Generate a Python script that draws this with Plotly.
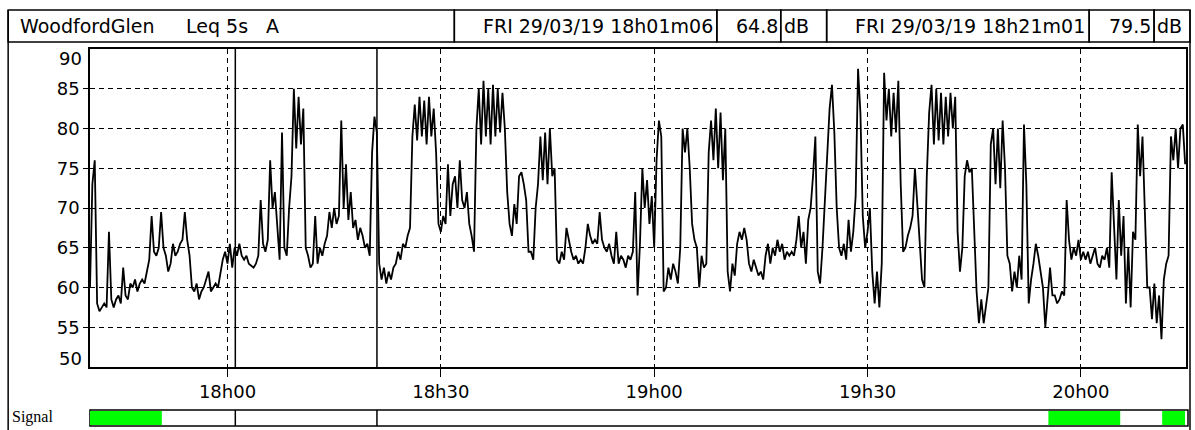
import plotly.graph_objects as go
import pandas as pd

# ---------------- data ----------------
station = "WoodfordGlen"
metric = "Leq 5s"
weighting = "A"
start_time = "2019-03-29 17:40:40"
end_time = "2019-03-29 20:14:47"
step_seconds = 20

leq_1740 = [
    60, 73, 76, 58, 57, 57.5, 58, 57.5, 67, 58.5,
    57.5, 58.5, 59, 58, 62.5, 59, 58.5, 60.5, 60, 61,
    59.5, 60.5, 61, 60.5, 62, 63.5, 69, 64.5, 64, 65,
    69.5, 65, 64, 62, 63, 65.5, 64, 64.5, 65.5, 66,
    69.5, 66, 64, 60, 59.5, 60.5, 58.5, 59.5, 60, 61,
    62, 59.5, 60, 60.5, 60, 62, 63.5, 64.5, 63, 65.5,
    62.5, 65, 64, 65.5, 64, 63.5, 64, 63, 62.8, 62.5,
    63, 64, 71, 65.5, 64.5, 66, 76, 70, 72, 67,
    63.5, 79.5, 65, 64, 70, 74, 85, 77.5, 84, 78,
    82.5, 65,
]
leq_1811 = [
    64, 62.5, 63, 69, 63, 65, 64, 65.5,
    66.5, 69.5, 67.5, 70, 68, 69, 81, 70, 75.5, 68.5,
    72, 67.5, 68.5, 66, 67.5, 66.5, 65, 65.5, 64, 77,
    81.5, 79.5, 63, 61, 62.5, 60.5, 62, 61, 62.5, 63,
    64.5, 63.5, 65.5, 65, 66.5, 67.5, 79, 83, 78.5, 84,
    79, 83.5, 78, 84, 79, 82.5, 77, 68, 67, 69,
    68, 75.5, 69, 73, 74, 70, 76, 71, 70, 72,
    68, 66.5, 64.5, 80, 85, 78, 86, 79, 85, 78,
    85.5, 79, 85, 79.5, 84.5, 80, 72, 68, 66.5, 70.5,
    68, 74, 74.5, 73, 71, 64.5,
]
leq_1842 = [
    64.5, 63.5, 70, 73, 79, 73.5, 79.5, 73, 80, 74,
    75, 63.5, 63, 64.5, 63.5, 67.5, 66, 64.5, 63.5, 64,
    63, 63.5, 63, 65, 68, 66.5, 65.5, 66, 65.5, 69.5,
    66, 65, 64.5, 65.5, 64, 63, 67, 63, 64, 63.5,
    62.5, 64, 63.5, 64.5, 72, 59, 65.5, 75, 70, 73.5,
    68, 71.5, 65, 76, 81, 79, 59.5, 60, 62.5, 61,
    63, 62, 60.5, 65, 80, 77, 80, 75, 68, 66,
    65, 60, 64, 62.5, 63, 77, 81, 76, 82.5, 75,
    82, 73.5, 80, 62, 59.5, 63, 61.5, 65.5, 67, 66,
    67.5, 66,
]
leq_1913 = [
    63, 62, 63.5, 62.5, 61.5, 62, 61, 64, 65.5, 63,
    65, 64, 66, 64.5, 65.5, 63.5, 64.5, 64, 64.5, 64,
    66, 69, 65, 67, 63, 68.5, 70, 74, 79, 62,
    60.5, 65, 71, 78, 82.5, 85.5, 79.5, 70, 65, 64,
    65.5, 63.5, 68.5, 64.5, 67, 71.5, 87.5, 82, 69, 65,
    67, 70, 62, 58, 62, 57.5, 63, 87, 81, 85,
    79, 84.5, 79.5, 86, 73, 64.5, 65, 66.5, 67.5, 69,
    75, 70.5, 66, 61, 60, 74, 82, 85.5, 78, 85,
    78.5, 84.5, 78, 84, 79, 84.5, 80, 84, 67, 62,
    65, 74, 76,
]
leq_1944 = [
    74.5, 75, 67, 59.5, 55.5, 58.5, 55.5, 58, 60, 78,
    80, 73, 80, 72.5, 81, 75, 64, 63, 59.5, 62,
    60, 64, 61, 80.5, 73, 58, 61, 63, 65.5, 64,
    62, 60, 55, 58.5, 62.5, 59, 59, 58, 58.5, 59.5,
    59, 71, 66, 63.5, 65, 64, 66, 63.5, 64.5, 63.5,
    64.5, 63, 64, 65, 63, 62.5, 64, 63.5, 65, 62.5,
    74.5, 67, 61, 71, 64, 69, 58, 65, 57.5, 67,
    66, 80.5, 74, 79, 68, 60, 60, 56, 60.5, 55.5,
    59, 53.5, 61, 63, 64, 79, 76, 80, 75, 80,
    80.5, 75.5,
]

cursor_times = ["2019-03-29 18:01:06", "2019-03-29 18:21:01"]
cursor_labels = ["FRI 29/03/19 18h01m06", "FRI 29/03/19 18h21m01"]
cursor_values = ["64.8", "79.5"]
unit = "dB"

signal_starts = ["2019-03-29 17:40:40", "2019-03-29 19:55:26", "2019-03-29 20:11:26"]
signal_ends = ["2019-03-29 17:50:46", "2019-03-29 20:05:32", "2019-03-29 20:14:39"]
signal_label = "Signal"

x_tick_times = ["2019-03-29 18:00", "2019-03-29 18:30", "2019-03-29 19:00",
                "2019-03-29 19:30", "2019-03-29 20:00"]
x_tick_labels = ["18h00", "18h30", "19h00", "19h30", "20h00"]
y_ticks = [55, 60, 65, 70, 75, 80, 85]
y_min, y_max = 50, 90

# ---------------- geometry / style ----------------
W, H = 1195, 430
PL, PR, PT, PB = 90, 1188, 49, 367
FONT = "DejaVu Sans"


def px(x):
    return (x - PL) / (PR - PL)


def py(y):
    return (PB - y) / (PB - PT)


leq = leq_1740 + leq_1811 + leq_1842 + leq_1913 + leq_1944
times = pd.date_range(start=start_time, periods=len(leq), freq=f"{step_seconds}s")

fig = go.Figure()
fig.add_trace(go.Scatter(x=times, y=leq, mode="lines",
                         line=dict(color="black", width=1.8),
                         hoverinfo="skip", showlegend=False))

shapes = []
# header cells
edges = [8, 455, 718, 782, 828, 1091, 1156, 1192]
for a, b in zip(edges[:-1], edges[1:]):
    shapes.append(dict(type="rect", xref="paper", yref="paper",
                       x0=px(a), x1=px(b), y0=py(10), y1=py(42),
                       line=dict(color="black", width=1.5), fillcolor="rgba(0,0,0,0)"))
# outer frame sides
for xv in (8, 1192):
    shapes.append(dict(type="line", xref="paper", yref="paper",
                       x0=px(xv), x1=px(xv), y0=py(10), y1=py(440),
                       line=dict(color="black", width=1.5)))
# signal bar
shapes.append(dict(type="rect", xref="paper", yref="paper",
                   x0=px(90), x1=px(1190), y0=py(410), y1=py(426),
                   line=dict(color="black", width=1.5), fillcolor="white", layer="below"))
for s, e in zip(signal_starts, signal_ends):
    shapes.append(dict(type="rect", xref="x", yref="paper",
                       x0=s, x1=e, y0=py(411), y1=py(425),
                       line=dict(width=0), fillcolor="#00ff00"))
# cursors
for t in cursor_times:
    shapes.append(dict(type="line", xref="x", yref="paper", x0=t, x1=t, y0=0, y1=1,
                       line=dict(color="black", width=1.5)))
    shapes.append(dict(type="line", xref="x", yref="paper", x0=t, x1=t,
                       y0=py(410), y1=py(426), line=dict(color="black", width=1.5)))

annotations = []


def txt(text, x, y, anchor, size=19, family=FONT):
    annotations.append(dict(text=text, xref="paper", yref="paper", x=px(x), y=py(y),
                            xanchor=anchor, yanchor="middle", showarrow=False,
                            font=dict(family=family, size=size, color="black")))


txt(station, 18, 26, "left")
txt(metric, 184, 26, "left")
txt(weighting, 264, 26, "left")
txt(cursor_labels[0], 716, 26, "right")
txt(cursor_values[0], 781, 26, "right")
txt(unit, 783, 26, "left")
txt(cursor_labels[1], 1089, 26, "right")
txt(cursor_values[1], 1155, 26, "right")
txt(unit, 1157, 26, "left")
txt(signal_label, 10, 417, "left", size=16, family="Liberation Serif")

# end labels of the y axis, kept inside the frame
for yv, anc, shift in ((y_max, "top", 3), (y_min, "bottom", -4)):
    annotations.append(dict(text=str(yv), xref="paper", yref="y", x=0, y=yv,
                            xanchor="right", yanchor=anc, xshift=-6, yshift=shift,
                            showarrow=False,
                            font=dict(family=FONT, size=18, color="black")))

fig.update_layout(
    width=W, height=H,
    margin=dict(l=PL, r=W - PR, t=PT, b=H - PB, pad=0),
    paper_bgcolor="white", plot_bgcolor="white",
    shapes=shapes, annotations=annotations,
    showlegend=False,
    xaxis=dict(type="date", range=[start_time, end_time],
               tickvals=x_tick_times, ticktext=x_tick_labels,
               showgrid=True, gridcolor="black", gridwidth=1, griddash="5px,4px",
               showline=True, linecolor="black", linewidth=1.5, mirror=True,
               ticks="outside", ticklen=8, tickcolor="black", tickwidth=1,
               tickfont=dict(family=FONT, size=18, color="black"),
               zeroline=False, fixedrange=True),
    yaxis=dict(range=[y_min, y_max], tickvals=y_ticks,
               showgrid=True, gridcolor="black", gridwidth=1, griddash="5px,4px",
               showline=True, linecolor="black", linewidth=1.5, mirror=True,
               ticks="outside", ticklen=5, tickcolor="black", tickwidth=1,
               tickfont=dict(family=FONT, size=18, color="black"),
               zeroline=False, fixedrange=True),
)

fig.write_html("out.html", config={"displayModeBar": False},
               post_script="document.body.style.margin='0px';document.body.style.padding='0px';")
